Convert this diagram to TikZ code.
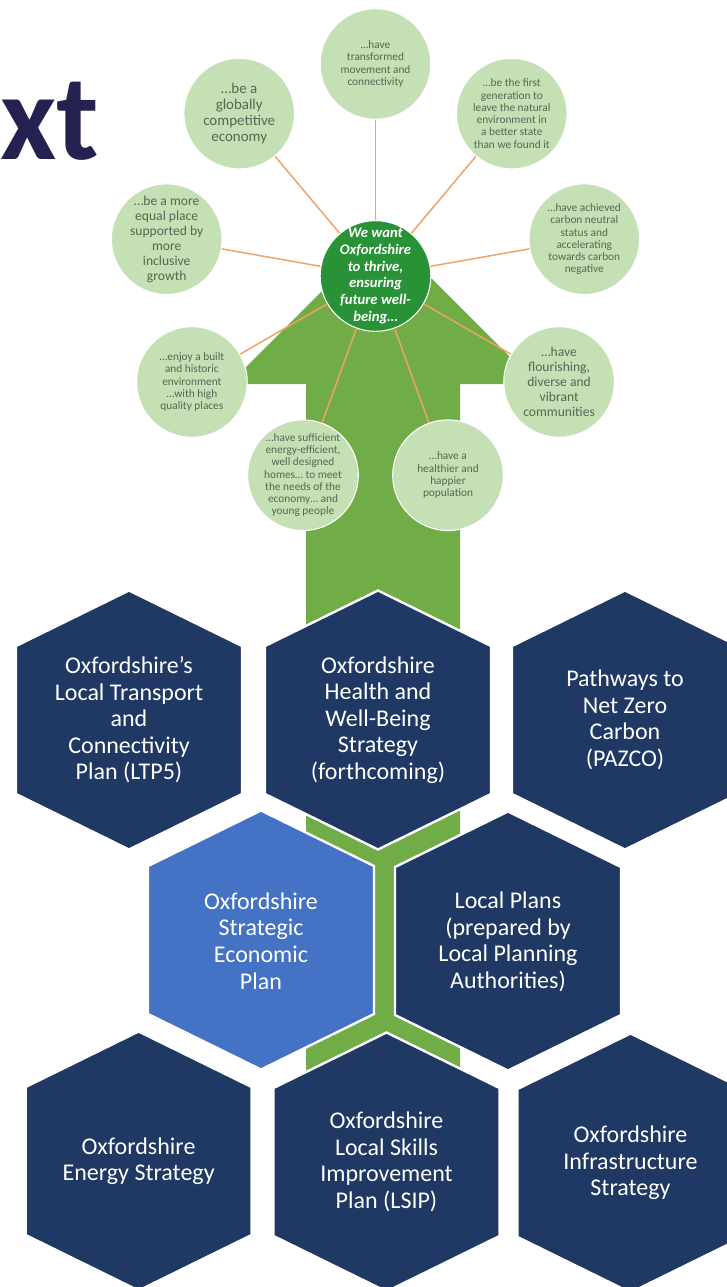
\documentclass[tikz,border=0pt]{standalone}
\usepackage{fontspec}
\setmainfont{Carlito}
\definecolor{hexnavy}{HTML}{1F3864}
\definecolor{hexblue}{HTML}{4472C4}
\definecolor{arrowgreen}{HTML}{70AD47}
\definecolor{petalgreen}{HTML}{C5E0B4}
\definecolor{hubgreen}{RGB}{41,146,54}
\definecolor{petalgray}{RGB}{88,102,84}
\definecolor{spokeorange}{RGB}{242,160,100}
\definecolor{titlenavy}{RGB}{35,34,80}

\begin{document}
\begin{tikzpicture}[x=0.75pt, y=0.75pt,
    hexbox/.style={fill=hexnavy, draw=white, line width=1.8pt, line join=miter},
    hextext/.style={text=white, align=center, inner sep=0pt, font=\fontsize{18}{19.9}\selectfont},
    petal/.style={circle, fill=petalgreen, draw=white, line width=0.8pt, minimum size=83pt, inner sep=0pt},
    hub/.style={circle, fill=hubgreen, draw=white, line width=0.8pt, minimum size=83pt, inner sep=0pt},
    petaltext/.style={text=petalgray, align=center, inner sep=0pt},
    smalltext/.style={font=\fontsize{8.5}{9.2}\selectfont},
    midtext/.style={font=\fontsize{10.2}{11.2}\selectfont},
    bigtext/.style={font=\fontsize{11.2}{12}\selectfont},
    spoke/.style={draw=spokeorange, line width=1.1pt}]
    \useasboundingbox (0,0) rectangle (727,-1287);
    \clip (0,0) rectangle (727,-1287);

    % title, cut by the page edge
    \node[anchor=base west, inner sep=0pt, text=titlenavy, font=\fontsize{92}{92}\selectfont\bfseries] (ttl) at (0,-160) {xt};

    % the green arrow behind everything
    \fill[arrowgreen] (306,-1090) -- (306,-384) -- (229,-384) -- (383,-230) -- (537,-384) -- (460,-384) -- (460,-1090) -- cycle;

    % vision wheel
    \node[hub] (hub) at (375.5,-276) {};
    \foreach \i in {0,...,8}
        \node[petal] (c\i) at ([shift={(90+40*\i:212)}]hub.center) {};
    \foreach \i in {0,...,8}
        \draw[spoke] (hub) -- (c\i);

    \node[petaltext, font=\fontsize{11}{12.5}\selectfont\bfseries\itshape, text=white] (hubtxt) at (hub) {We want\\Oxfordshire\\to thrive,\\ensuring\\future well-\\being…};
    \node[petaltext, smalltext] (t0) at (c0) {…have\\transformed\\movement and\\connectivity};
    \node[petaltext, bigtext] (t1) at (c1) {…be a\\globally\\competitive\\economy};
    \node[petaltext, midtext] (t2) at (c2) {…be a more\\equal place\\supported by\\more\\inclusive\\growth};
    \node[petaltext, smalltext] (t3) at (c3) {…enjoy a built\\and historic\\environment\\…with high\\quality places};
    \node[petaltext, smalltext] (t4) at (c4) {…have sufficient\\energy-efficient,\\well designed\\homes… to meet\\the needs of the\\economy… and\\young people};
    \node[petaltext, smalltext] (t5) at (c5) {…have a\\healthier and\\happier\\population};
    \node[petaltext, midtext] (t6) at (c6) {…have\\flourishing,\\diverse and\\vibrant\\communities};
    \node[petaltext, smalltext] (t7) at (c7) {…have achieved\\carbon neutral\\status and\\accelerating\\towards carbon\\negative};
    \node[petaltext, smalltext] (t8) at (c8) {…be the first\\generation to\\leave the natural\\environment in\\a better state\\than we found it};

    % strategy hexagons
    \foreach \cx/\cy/\col in {129/-720/hexnavy, 378/-720/hexnavy, 625/-720/hexnavy,
                              261/-940/hexblue, 508/-941/hexnavy,
                              138.6/-1161/hexnavy, 386.5/-1162/hexnavy, 630.5/-1163/hexnavy}
        \draw[hexbox, fill=\col] (\cx,\cy) +(0,129.5) -- +(113,74) -- +(113,-74) -- +(0,-129.5) -- +(-113,-74) -- +(-113,74) -- cycle;

    \node[hextext] (ltp) at (129,-720) {Oxfordshire’s\\Local Transport\\and\\Connectivity\\Plan (LTP5)};
    \node[hextext] (health) at (378,-720) {Oxfordshire\\Health and\\Well-Being\\Strategy\\(forthcoming)};
    \node[hextext] (pazco) at (625,-720) {Pathways to\\Net Zero\\Carbon\\(PAZCO)};
    \node[hextext] (osep) at (261,-941) {Oxfordshire\\Strategic\\Economic\\Plan};
    \node[hextext] (lplans) at (508,-942) {Local Plans\\(prepared by\\Local Planning\\Authorities)};
    \node[hextext] (energy) at (138.6,-1161) {Oxfordshire\\Energy Strategy};
    \node[hextext] (lsip) at (386.5,-1162) {Oxfordshire\\Local Skills\\Improvement\\Plan (LSIP)};
    \node[hextext] (infra) at (630.5,-1163) {Oxfordshire\\Infrastructure\\Strategy};

\end{tikzpicture}
\end{document}
